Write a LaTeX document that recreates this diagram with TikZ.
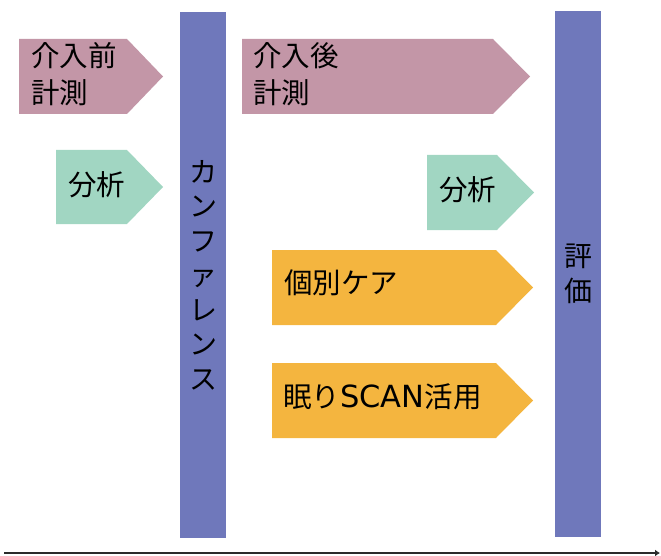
\documentclass[tikz,border=0pt]{standalone}
\usepackage{fontspec}
\setmainfont{Noto Sans CJK JP}
\newfontfamily\latinfont{DejaVu Sans}
\usepackage{tikz}
\usetikzlibrary{positioning,calc,arrows.meta}
\definecolor{measurepink}{HTML}{C396A7}
\definecolor{analysisgreen}{HTML}{A1D6C2}
\definecolor{barblue}{HTML}{6F78BB}
\definecolor{careorange}{HTML}{F4B53F}
\definecolor{axisdark}{HTML}{2B2B2B}

\begin{document}
\begin{tikzpicture}[x=1pt, y=-1pt, phasebar/.style={fill=barblue, draw=none, minimum width=46pt, inner sep=0pt, align=center, font=\fontsize{28}{34.5}\selectfont}, steptext/.style={anchor=west, inner sep=0pt, align=left, font=\fontsize{28.5}{36.5}\selectfont}, timeline/.style={-{Latex[length=5pt,width=7pt]}, draw=axisdark, line width=2pt}]
\useasboundingbox (0,0) rectangle (661,556);
% chevrons
\fill[measurepink] (19,39) -- (127,39) -- (163,76.5) -- (127,114) -- (19,114) -- cycle;
\node[steptext] (premeasure) at (31,74) {介入前\\計測};
\fill[analysisgreen] (56,150) -- (127,150) -- (163,187) -- (127,224) -- (56,224) -- cycle;
\node[steptext] (preanalysis) at (68,185) {分析};
\fill[measurepink] (242,39) -- (493,39) -- (530,76.5) -- (493,114) -- (242,114) -- cycle;
\node[steptext] (postmeasure) at (253,74) {介入後\\計測};
\fill[analysisgreen] (427,155) -- (497,155) -- (534,192.5) -- (497,230) -- (427,230) -- cycle;
\node[steptext] (postanalysis) at (439,190) {分析};
\fill[careorange] (272,250) -- (496,250) -- (533,287.5) -- (496,325) -- (272,325) -- cycle;
\node[steptext] (care) at (284,283) {個別ケア};
\fill[careorange] (272,363) -- (496,363) -- (533,400.5) -- (496,438) -- (272,438) -- cycle;
\node[steptext] (scan) at (283,397) {眠り{\fontsize{30.5}{36}\latinfont SCAN}活用};
% bars
\node[phasebar, minimum height=526pt] (conference) at (203,275) {カ\\ン\\フ\\ァ\\レ\\ン\\ス};
\node[phasebar, minimum height=526pt] (evaluation) at (578,274) {評\\価};
% time axis
\coordinate (tstart) at (4,553);
\coordinate (tend) at (660,553);
\draw[timeline] (tstart) -- (tend);
\end{tikzpicture}
\end{document}
